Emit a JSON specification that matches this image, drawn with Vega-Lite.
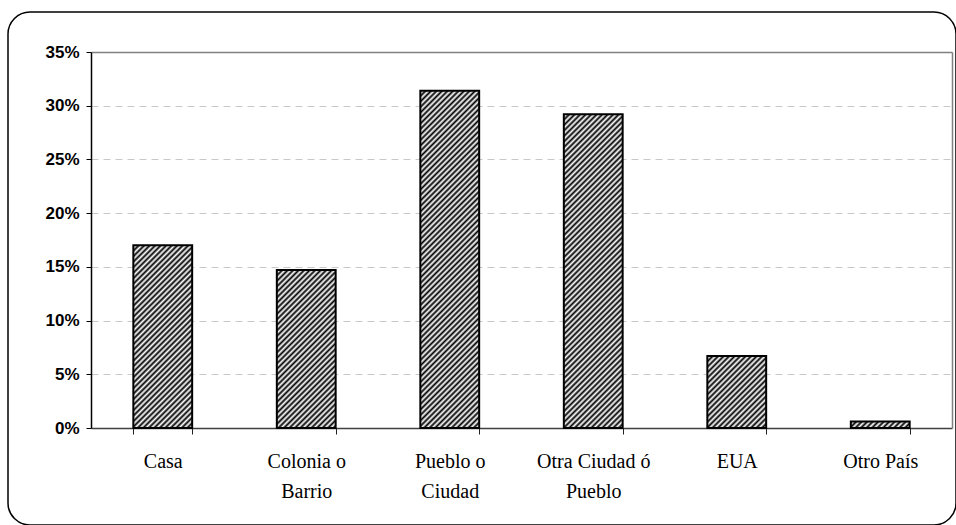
{
  "$schema": "https://vega.github.io/schema/vega-lite/v6.json",
  "width": 948,
  "height": 513,
  "autosize": {"type": "none"},
  "padding": {"left": 8, "top": 12, "right": 0, "bottom": 0},
  "background": "white",
  "config": {
    "view": {"stroke": "#000", "strokeWidth": 1.5, "cornerRadius": 22, "fill": "white"}
  },
  "data": {
    "values": [
      {"lugar": "Casa", "pct": 0.17},
      {"lugar": "Colonia o Barrio", "pct": 0.147},
      {"lugar": "Pueblo o Ciudad", "pct": 0.314},
      {"lugar": "Otra Ciudad ó Pueblo", "pct": 0.292},
      {"lugar": "EUA", "pct": 0.067},
      {"lugar": "Otro País", "pct": 0.006}
    ]
  },
  "encoding": {
    "x": {
      "field": "lugar",
      "type": "nominal",
      "sort": null,
      "scale": {"type": "band", "range": [83, 944], "paddingInner": 0.59, "paddingOuter": 0.295},
      "axis": {
        "orient": "bottom",
        "offset": -97,
        "title": null,
        "labelAngle": 0,
        "domainColor": "#404040",
        "domainWidth": 1.5,
        "tickColor": "#202020",
        "tickWidth": 1,
        "tickSize": 6,
        "tickBand": "extent",
        "grid": false,
        "labelFont": "Liberation Serif",
        "labelFontSize": 20,
        "labelColor": "#000",
        "labelPadding": 17,
        "labelLineHeight": 30,
        "labelBaseline": "top",
        "labelExpr": "datum.value == 'Colonia o Barrio' ? ['Colonia o', 'Barrio'] : datum.value == 'Pueblo o Ciudad' ? ['Pueblo o', 'Ciudad'] : datum.value == 'Otra Ciudad ó Pueblo' ? ['Otra Ciudad ó', 'Pueblo'] : datum.label"
      }
    }
  },
  "layer": [
    {
      "mark": {"type": "bar", "strokeWidth": 0},
      "encoding": {
        "y": {
          "field": "pct",
          "type": "quantitative",
          "scale": {"domain": [0, 0.35], "range": [416, 40], "nice": false},
          "axis": {
            "orient": "left",
            "offset": -83,
            "title": null,
            "values": [0, 0.05, 0.1, 0.15, 0.2, 0.25, 0.3, 0.35],
            "format": ".0%",
            "domainColor": "#000",
            "domainWidth": 1.5,
            "tickColor": "#000",
            "tickSize": 5,
            "labelFont": "Liberation Sans",
            "labelFontSize": 17,
            "labelFontWeight": "bold",
            "labelColor": "#000",
            "labelPadding": 7,
            "grid": true,
            "gridColor": {"condition": {"test": "datum.value >= 0.349", "value": "#808080"}, "value": "#c8c8c8"},
            "gridWidth": {"condition": {"test": "datum.value >= 0.349", "value": 1.5}, "value": 1},
            "gridDash": {"condition": {"test": "datum.value >= 0.349", "value": []}, "value": [7, 5]}
          }
        },
        "fill": {
          "condition": [
            {"test": "datum.lugar == 'Casa'", "value": {"gradient": "linear", "x1": 0, "y1": 0, "x2": 0.8785, "y2": 2.7287, "stops": [
              {"offset":0,"color":"#000"},{"offset":0.005,"color":"#fff"},{"offset":0.01,"color":"#000"},{"offset":0.015,"color":"#fff"},{"offset":0.02,"color":"#000"},{"offset":0.025,"color":"#fff"},{"offset":0.03,"color":"#000"},{"offset":0.035,"color":"#fff"},{"offset":0.04,"color":"#000"},{"offset":0.045,"color":"#fff"},
              {"offset":0.05,"color":"#000"},{"offset":0.055,"color":"#fff"},{"offset":0.06,"color":"#000"},{"offset":0.065,"color":"#fff"},{"offset":0.07,"color":"#000"},{"offset":0.075,"color":"#fff"},{"offset":0.08,"color":"#000"},{"offset":0.085,"color":"#fff"},{"offset":0.09,"color":"#000"},{"offset":0.095,"color":"#fff"},
              {"offset":0.1,"color":"#000"},{"offset":0.105,"color":"#fff"},{"offset":0.11,"color":"#000"},{"offset":0.115,"color":"#fff"},{"offset":0.12,"color":"#000"},{"offset":0.125,"color":"#fff"},{"offset":0.13,"color":"#000"},{"offset":0.135,"color":"#fff"},{"offset":0.14,"color":"#000"},{"offset":0.145,"color":"#fff"},
              {"offset":0.15,"color":"#000"},{"offset":0.155,"color":"#fff"},{"offset":0.16,"color":"#000"},{"offset":0.165,"color":"#fff"},{"offset":0.17,"color":"#000"},{"offset":0.175,"color":"#fff"},{"offset":0.18,"color":"#000"},{"offset":0.185,"color":"#fff"},{"offset":0.19,"color":"#000"},{"offset":0.195,"color":"#fff"},
              {"offset":0.2,"color":"#000"},{"offset":0.205,"color":"#fff"},{"offset":0.21,"color":"#000"},{"offset":0.215,"color":"#fff"},{"offset":0.22,"color":"#000"},{"offset":0.225,"color":"#fff"},{"offset":0.23,"color":"#000"},{"offset":0.235,"color":"#fff"},{"offset":0.24,"color":"#000"},{"offset":0.245,"color":"#fff"},
              {"offset":0.25,"color":"#000"},{"offset":0.255,"color":"#fff"},{"offset":0.26,"color":"#000"},{"offset":0.265,"color":"#fff"},{"offset":0.27,"color":"#000"},{"offset":0.275,"color":"#fff"},{"offset":0.28,"color":"#000"},{"offset":0.285,"color":"#fff"},{"offset":0.29,"color":"#000"},{"offset":0.295,"color":"#fff"},
              {"offset":0.3,"color":"#000"},{"offset":0.305,"color":"#fff"},{"offset":0.31,"color":"#000"},{"offset":0.315,"color":"#fff"},{"offset":0.32,"color":"#000"},{"offset":0.325,"color":"#fff"},{"offset":0.33,"color":"#000"},{"offset":0.335,"color":"#fff"},{"offset":0.34,"color":"#000"},{"offset":0.345,"color":"#fff"},
              {"offset":0.35,"color":"#000"},{"offset":0.355,"color":"#fff"},{"offset":0.36,"color":"#000"},{"offset":0.365,"color":"#fff"},{"offset":0.37,"color":"#000"},{"offset":0.375,"color":"#fff"},{"offset":0.38,"color":"#000"},{"offset":0.385,"color":"#fff"},{"offset":0.39,"color":"#000"},{"offset":0.395,"color":"#fff"},
              {"offset":0.4,"color":"#000"},{"offset":0.405,"color":"#fff"},{"offset":0.41,"color":"#000"},{"offset":0.415,"color":"#fff"},{"offset":0.42,"color":"#000"},{"offset":0.425,"color":"#fff"},{"offset":0.43,"color":"#000"},{"offset":0.435,"color":"#fff"},{"offset":0.44,"color":"#000"}
            ]}},
            {"test": "datum.lugar == 'Colonia o Barrio'", "value": {"gradient": "linear", "x1": 0, "y1": 0, "x2": 1.1389, "y2": 3.0587, "stops": [
              {"offset":0,"color":"#000"},{"offset":0.005,"color":"#fff"},{"offset":0.01,"color":"#000"},{"offset":0.015,"color":"#fff"},{"offset":0.02,"color":"#000"},{"offset":0.025,"color":"#fff"},{"offset":0.03,"color":"#000"},{"offset":0.035,"color":"#fff"},{"offset":0.04,"color":"#000"},{"offset":0.045,"color":"#fff"},
              {"offset":0.05,"color":"#000"},{"offset":0.055,"color":"#fff"},{"offset":0.06,"color":"#000"},{"offset":0.065,"color":"#fff"},{"offset":0.07,"color":"#000"},{"offset":0.075,"color":"#fff"},{"offset":0.08,"color":"#000"},{"offset":0.085,"color":"#fff"},{"offset":0.09,"color":"#000"},{"offset":0.095,"color":"#fff"},
              {"offset":0.1,"color":"#000"},{"offset":0.105,"color":"#fff"},{"offset":0.11,"color":"#000"},{"offset":0.115,"color":"#fff"},{"offset":0.12,"color":"#000"},{"offset":0.125,"color":"#fff"},{"offset":0.13,"color":"#000"},{"offset":0.135,"color":"#fff"},{"offset":0.14,"color":"#000"},{"offset":0.145,"color":"#fff"},
              {"offset":0.15,"color":"#000"},{"offset":0.155,"color":"#fff"},{"offset":0.16,"color":"#000"},{"offset":0.165,"color":"#fff"},{"offset":0.17,"color":"#000"},{"offset":0.175,"color":"#fff"},{"offset":0.18,"color":"#000"},{"offset":0.185,"color":"#fff"},{"offset":0.19,"color":"#000"},{"offset":0.195,"color":"#fff"},
              {"offset":0.2,"color":"#000"},{"offset":0.205,"color":"#fff"},{"offset":0.21,"color":"#000"},{"offset":0.215,"color":"#fff"},{"offset":0.22,"color":"#000"},{"offset":0.225,"color":"#fff"},{"offset":0.23,"color":"#000"},{"offset":0.235,"color":"#fff"},{"offset":0.24,"color":"#000"},{"offset":0.245,"color":"#fff"},
              {"offset":0.25,"color":"#000"},{"offset":0.255,"color":"#fff"},{"offset":0.26,"color":"#000"},{"offset":0.265,"color":"#fff"},{"offset":0.27,"color":"#000"},{"offset":0.275,"color":"#fff"},{"offset":0.28,"color":"#000"},{"offset":0.285,"color":"#fff"},{"offset":0.29,"color":"#000"},{"offset":0.295,"color":"#fff"},
              {"offset":0.3,"color":"#000"},{"offset":0.305,"color":"#fff"},{"offset":0.31,"color":"#000"},{"offset":0.315,"color":"#fff"},{"offset":0.32,"color":"#000"},{"offset":0.325,"color":"#fff"},{"offset":0.33,"color":"#000"},{"offset":0.335,"color":"#fff"},{"offset":0.34,"color":"#000"},{"offset":0.345,"color":"#fff"},
              {"offset":0.35,"color":"#000"},{"offset":0.355,"color":"#fff"},{"offset":0.36,"color":"#000"},{"offset":0.365,"color":"#fff"},{"offset":0.37,"color":"#000"},{"offset":0.375,"color":"#fff"},{"offset":0.38,"color":"#000"},{"offset":0.385,"color":"#fff"},{"offset":0.39,"color":"#000"},{"offset":0.395,"color":"#fff"},
              {"offset":0.4,"color":"#000"}
            ]}},
            {"test": "datum.lugar == 'Pueblo o Ciudad'", "value": {"gradient": "linear", "x1": 0, "y1": 0, "x2": 0.27586, "y2": 1.58246, "stops": [
              {"offset":0,"color":"#000"},{"offset":0.005,"color":"#fff"},{"offset":0.01,"color":"#000"},{"offset":0.015,"color":"#fff"},{"offset":0.02,"color":"#000"},{"offset":0.025,"color":"#fff"},{"offset":0.03,"color":"#000"},{"offset":0.035,"color":"#fff"},{"offset":0.04,"color":"#000"},{"offset":0.045,"color":"#fff"},
              {"offset":0.05,"color":"#000"},{"offset":0.055,"color":"#fff"},{"offset":0.06,"color":"#000"},{"offset":0.065,"color":"#fff"},{"offset":0.07,"color":"#000"},{"offset":0.075,"color":"#fff"},{"offset":0.08,"color":"#000"},{"offset":0.085,"color":"#fff"},{"offset":0.09,"color":"#000"},{"offset":0.095,"color":"#fff"},
              {"offset":0.1,"color":"#000"},{"offset":0.105,"color":"#fff"},{"offset":0.11,"color":"#000"},{"offset":0.115,"color":"#fff"},{"offset":0.12,"color":"#000"},{"offset":0.125,"color":"#fff"},{"offset":0.13,"color":"#000"},{"offset":0.135,"color":"#fff"},{"offset":0.14,"color":"#000"},{"offset":0.145,"color":"#fff"},
              {"offset":0.15,"color":"#000"},{"offset":0.155,"color":"#fff"},{"offset":0.16,"color":"#000"},{"offset":0.165,"color":"#fff"},{"offset":0.17,"color":"#000"},{"offset":0.175,"color":"#fff"},{"offset":0.18,"color":"#000"},{"offset":0.185,"color":"#fff"},{"offset":0.19,"color":"#000"},{"offset":0.195,"color":"#fff"},
              {"offset":0.2,"color":"#000"},{"offset":0.205,"color":"#fff"},{"offset":0.21,"color":"#000"},{"offset":0.215,"color":"#fff"},{"offset":0.22,"color":"#000"},{"offset":0.225,"color":"#fff"},{"offset":0.23,"color":"#000"},{"offset":0.235,"color":"#fff"},{"offset":0.24,"color":"#000"},{"offset":0.245,"color":"#fff"},
              {"offset":0.25,"color":"#000"},{"offset":0.255,"color":"#fff"},{"offset":0.26,"color":"#000"},{"offset":0.265,"color":"#fff"},{"offset":0.27,"color":"#000"},{"offset":0.275,"color":"#fff"},{"offset":0.28,"color":"#000"},{"offset":0.285,"color":"#fff"},{"offset":0.29,"color":"#000"},{"offset":0.295,"color":"#fff"},
              {"offset":0.3,"color":"#000"},{"offset":0.305,"color":"#fff"},{"offset":0.31,"color":"#000"},{"offset":0.315,"color":"#fff"},{"offset":0.32,"color":"#000"},{"offset":0.325,"color":"#fff"},{"offset":0.33,"color":"#000"},{"offset":0.335,"color":"#fff"},{"offset":0.34,"color":"#000"},{"offset":0.345,"color":"#fff"},
              {"offset":0.35,"color":"#000"},{"offset":0.355,"color":"#fff"},{"offset":0.36,"color":"#000"},{"offset":0.365,"color":"#fff"},{"offset":0.37,"color":"#000"},{"offset":0.375,"color":"#fff"},{"offset":0.38,"color":"#000"},{"offset":0.385,"color":"#fff"},{"offset":0.39,"color":"#000"},{"offset":0.395,"color":"#fff"},
              {"offset":0.4,"color":"#000"},{"offset":0.405,"color":"#fff"},{"offset":0.41,"color":"#000"},{"offset":0.415,"color":"#fff"},{"offset":0.42,"color":"#000"},{"offset":0.425,"color":"#fff"},{"offset":0.43,"color":"#000"},{"offset":0.435,"color":"#fff"},{"offset":0.44,"color":"#000"},{"offset":0.445,"color":"#fff"},
              {"offset":0.45,"color":"#000"},{"offset":0.455,"color":"#fff"},{"offset":0.46,"color":"#000"},{"offset":0.465,"color":"#fff"},{"offset":0.47,"color":"#000"},{"offset":0.475,"color":"#fff"},{"offset":0.48,"color":"#000"},{"offset":0.485,"color":"#fff"},{"offset":0.49,"color":"#000"},{"offset":0.495,"color":"#fff"},
              {"offset":0.5,"color":"#000"},{"offset":0.505,"color":"#fff"},{"offset":0.51,"color":"#000"},{"offset":0.515,"color":"#fff"},{"offset":0.52,"color":"#000"},{"offset":0.525,"color":"#fff"},{"offset":0.53,"color":"#000"},{"offset":0.535,"color":"#fff"},{"offset":0.54,"color":"#000"},{"offset":0.545,"color":"#fff"},
              {"offset":0.55,"color":"#000"},{"offset":0.555,"color":"#fff"},{"offset":0.56,"color":"#000"},{"offset":0.565,"color":"#fff"},{"offset":0.57,"color":"#000"},{"offset":0.575,"color":"#fff"},{"offset":0.58,"color":"#000"},{"offset":0.585,"color":"#fff"},{"offset":0.59,"color":"#000"},{"offset":0.595,"color":"#fff"},
              {"offset":0.6,"color":"#000"},{"offset":0.605,"color":"#fff"},{"offset":0.61,"color":"#000"},{"offset":0.615,"color":"#fff"},{"offset":0.62,"color":"#000"},{"offset":0.625,"color":"#fff"},{"offset":0.63,"color":"#000"},{"offset":0.635,"color":"#fff"},{"offset":0.64,"color":"#000"},{"offset":0.645,"color":"#fff"},
              {"offset":0.65,"color":"#000"},{"offset":0.655,"color":"#fff"},{"offset":0.66,"color":"#000"},{"offset":0.665,"color":"#fff"},{"offset":0.67,"color":"#000"},{"offset":0.675,"color":"#fff"},{"offset":0.68,"color":"#000"},{"offset":0.685,"color":"#fff"},{"offset":0.69,"color":"#000"},{"offset":0.695,"color":"#fff"},
              {"offset":0.7,"color":"#000"},{"offset":0.705,"color":"#fff"},{"offset":0.71,"color":"#000"},{"offset":0.715,"color":"#fff"},{"offset":0.72,"color":"#000"}
            ]}},
            {"test": "datum.lugar == 'Otra Ciudad ó Pueblo'", "value": {"gradient": "linear", "x1": 0, "y1": 0, "x2": 0.31752, "y2": 1.69386, "stops": [
              {"offset":0,"color":"#000"},{"offset":0.005,"color":"#fff"},{"offset":0.01,"color":"#000"},{"offset":0.015,"color":"#fff"},{"offset":0.02,"color":"#000"},{"offset":0.025,"color":"#fff"},{"offset":0.03,"color":"#000"},{"offset":0.035,"color":"#fff"},{"offset":0.04,"color":"#000"},{"offset":0.045,"color":"#fff"},
              {"offset":0.05,"color":"#000"},{"offset":0.055,"color":"#fff"},{"offset":0.06,"color":"#000"},{"offset":0.065,"color":"#fff"},{"offset":0.07,"color":"#000"},{"offset":0.075,"color":"#fff"},{"offset":0.08,"color":"#000"},{"offset":0.085,"color":"#fff"},{"offset":0.09,"color":"#000"},{"offset":0.095,"color":"#fff"},
              {"offset":0.1,"color":"#000"},{"offset":0.105,"color":"#fff"},{"offset":0.11,"color":"#000"},{"offset":0.115,"color":"#fff"},{"offset":0.12,"color":"#000"},{"offset":0.125,"color":"#fff"},{"offset":0.13,"color":"#000"},{"offset":0.135,"color":"#fff"},{"offset":0.14,"color":"#000"},{"offset":0.145,"color":"#fff"},
              {"offset":0.15,"color":"#000"},{"offset":0.155,"color":"#fff"},{"offset":0.16,"color":"#000"},{"offset":0.165,"color":"#fff"},{"offset":0.17,"color":"#000"},{"offset":0.175,"color":"#fff"},{"offset":0.18,"color":"#000"},{"offset":0.185,"color":"#fff"},{"offset":0.19,"color":"#000"},{"offset":0.195,"color":"#fff"},
              {"offset":0.2,"color":"#000"},{"offset":0.205,"color":"#fff"},{"offset":0.21,"color":"#000"},{"offset":0.215,"color":"#fff"},{"offset":0.22,"color":"#000"},{"offset":0.225,"color":"#fff"},{"offset":0.23,"color":"#000"},{"offset":0.235,"color":"#fff"},{"offset":0.24,"color":"#000"},{"offset":0.245,"color":"#fff"},
              {"offset":0.25,"color":"#000"},{"offset":0.255,"color":"#fff"},{"offset":0.26,"color":"#000"},{"offset":0.265,"color":"#fff"},{"offset":0.27,"color":"#000"},{"offset":0.275,"color":"#fff"},{"offset":0.28,"color":"#000"},{"offset":0.285,"color":"#fff"},{"offset":0.29,"color":"#000"},{"offset":0.295,"color":"#fff"},
              {"offset":0.3,"color":"#000"},{"offset":0.305,"color":"#fff"},{"offset":0.31,"color":"#000"},{"offset":0.315,"color":"#fff"},{"offset":0.32,"color":"#000"},{"offset":0.325,"color":"#fff"},{"offset":0.33,"color":"#000"},{"offset":0.335,"color":"#fff"},{"offset":0.34,"color":"#000"},{"offset":0.345,"color":"#fff"},
              {"offset":0.35,"color":"#000"},{"offset":0.355,"color":"#fff"},{"offset":0.36,"color":"#000"},{"offset":0.365,"color":"#fff"},{"offset":0.37,"color":"#000"},{"offset":0.375,"color":"#fff"},{"offset":0.38,"color":"#000"},{"offset":0.385,"color":"#fff"},{"offset":0.39,"color":"#000"},{"offset":0.395,"color":"#fff"},
              {"offset":0.4,"color":"#000"},{"offset":0.405,"color":"#fff"},{"offset":0.41,"color":"#000"},{"offset":0.415,"color":"#fff"},{"offset":0.42,"color":"#000"},{"offset":0.425,"color":"#fff"},{"offset":0.43,"color":"#000"},{"offset":0.435,"color":"#fff"},{"offset":0.44,"color":"#000"},{"offset":0.445,"color":"#fff"},
              {"offset":0.45,"color":"#000"},{"offset":0.455,"color":"#fff"},{"offset":0.46,"color":"#000"},{"offset":0.465,"color":"#fff"},{"offset":0.47,"color":"#000"},{"offset":0.475,"color":"#fff"},{"offset":0.48,"color":"#000"},{"offset":0.485,"color":"#fff"},{"offset":0.49,"color":"#000"},{"offset":0.495,"color":"#fff"},
              {"offset":0.5,"color":"#000"},{"offset":0.505,"color":"#fff"},{"offset":0.51,"color":"#000"},{"offset":0.515,"color":"#fff"},{"offset":0.52,"color":"#000"},{"offset":0.525,"color":"#fff"},{"offset":0.53,"color":"#000"},{"offset":0.535,"color":"#fff"},{"offset":0.54,"color":"#000"},{"offset":0.545,"color":"#fff"},
              {"offset":0.55,"color":"#000"},{"offset":0.555,"color":"#fff"},{"offset":0.56,"color":"#000"},{"offset":0.565,"color":"#fff"},{"offset":0.57,"color":"#000"},{"offset":0.575,"color":"#fff"},{"offset":0.58,"color":"#000"},{"offset":0.585,"color":"#fff"},{"offset":0.59,"color":"#000"},{"offset":0.595,"color":"#fff"},
              {"offset":0.6,"color":"#000"},{"offset":0.605,"color":"#fff"},{"offset":0.61,"color":"#000"},{"offset":0.615,"color":"#fff"},{"offset":0.62,"color":"#000"},{"offset":0.625,"color":"#fff"},{"offset":0.63,"color":"#000"},{"offset":0.635,"color":"#fff"},{"offset":0.64,"color":"#000"},{"offset":0.645,"color":"#fff"},
              {"offset":0.65,"color":"#000"},{"offset":0.655,"color":"#fff"},{"offset":0.66,"color":"#000"},{"offset":0.665,"color":"#fff"},{"offset":0.67,"color":"#000"},{"offset":0.675,"color":"#fff"},{"offset":0.68,"color":"#000"}
            ]}},
            {"test": "datum.lugar == 'EUA'", "value": {"gradient": "linear", "x1": 0, "y1": 0, "x2": 3.744, "y2": 4.5829, "stops": [
              {"offset":0,"color":"#000"},{"offset":0.005,"color":"#fff"},{"offset":0.01,"color":"#000"},{"offset":0.015,"color":"#fff"},{"offset":0.02,"color":"#000"},{"offset":0.025,"color":"#fff"},{"offset":0.03,"color":"#000"},{"offset":0.035,"color":"#fff"},{"offset":0.04,"color":"#000"},{"offset":0.045,"color":"#fff"},
              {"offset":0.05,"color":"#000"},{"offset":0.055,"color":"#fff"},{"offset":0.06,"color":"#000"},{"offset":0.065,"color":"#fff"},{"offset":0.07,"color":"#000"},{"offset":0.075,"color":"#fff"},{"offset":0.08,"color":"#000"},{"offset":0.085,"color":"#fff"},{"offset":0.09,"color":"#000"},{"offset":0.095,"color":"#fff"},
              {"offset":0.1,"color":"#000"},{"offset":0.105,"color":"#fff"},{"offset":0.11,"color":"#000"},{"offset":0.115,"color":"#fff"},{"offset":0.12,"color":"#000"},{"offset":0.125,"color":"#fff"},{"offset":0.13,"color":"#000"},{"offset":0.135,"color":"#fff"},{"offset":0.14,"color":"#000"},{"offset":0.145,"color":"#fff"},
              {"offset":0.15,"color":"#000"},{"offset":0.155,"color":"#fff"},{"offset":0.16,"color":"#000"},{"offset":0.165,"color":"#fff"},{"offset":0.17,"color":"#000"},{"offset":0.175,"color":"#fff"},{"offset":0.18,"color":"#000"},{"offset":0.185,"color":"#fff"},{"offset":0.19,"color":"#000"},{"offset":0.195,"color":"#fff"},
              {"offset":0.2,"color":"#000"},{"offset":0.205,"color":"#fff"},{"offset":0.21,"color":"#000"},{"offset":0.215,"color":"#fff"},{"offset":0.22,"color":"#000"},{"offset":0.225,"color":"#fff"},{"offset":0.23,"color":"#000"},{"offset":0.235,"color":"#fff"},{"offset":0.24,"color":"#000"}
            ]}},
            {"test": "datum.lugar == 'Otro País'", "value": {"gradient": "linear", "x1": 0, "y1": 0, "x2": 9.2428, "y2": 1.01319, "stops": [
              {"offset":0,"color":"#000"},{"offset":0.005,"color":"#fff"},{"offset":0.01,"color":"#000"},{"offset":0.015,"color":"#fff"},{"offset":0.02,"color":"#000"},{"offset":0.025,"color":"#fff"},{"offset":0.03,"color":"#000"},{"offset":0.035,"color":"#fff"},{"offset":0.04,"color":"#000"},{"offset":0.045,"color":"#fff"},
              {"offset":0.05,"color":"#000"},{"offset":0.055,"color":"#fff"},{"offset":0.06,"color":"#000"},{"offset":0.065,"color":"#fff"},{"offset":0.07,"color":"#000"},{"offset":0.075,"color":"#fff"},{"offset":0.08,"color":"#000"},{"offset":0.085,"color":"#fff"},{"offset":0.09,"color":"#000"},{"offset":0.095,"color":"#fff"},
              {"offset":0.1,"color":"#000"},{"offset":0.105,"color":"#fff"},{"offset":0.11,"color":"#000"},{"offset":0.115,"color":"#fff"},{"offset":0.12,"color":"#000"}
            ]}}
          ],
          "value": "#666"
        }
      }
    },
    {
      "mark": {"type": "bar", "filled": false, "stroke": "#000", "strokeWidth": 2},
      "encoding": {
        "y": {
          "field": "pct",
          "type": "quantitative",
          "scale": {"domain": [0, 0.35], "range": [416, 40], "nice": false},
          "axis": {
            "orient": "right",
            "offset": -4,
            "title": null,
            "labels": false,
            "ticks": false,
            "grid": false,
            "domainColor": "#808080",
            "domainWidth": 1.5
          }
        }
      }
    }
  ],
  "resolve": {"axis": {"y": "independent"}}
}
